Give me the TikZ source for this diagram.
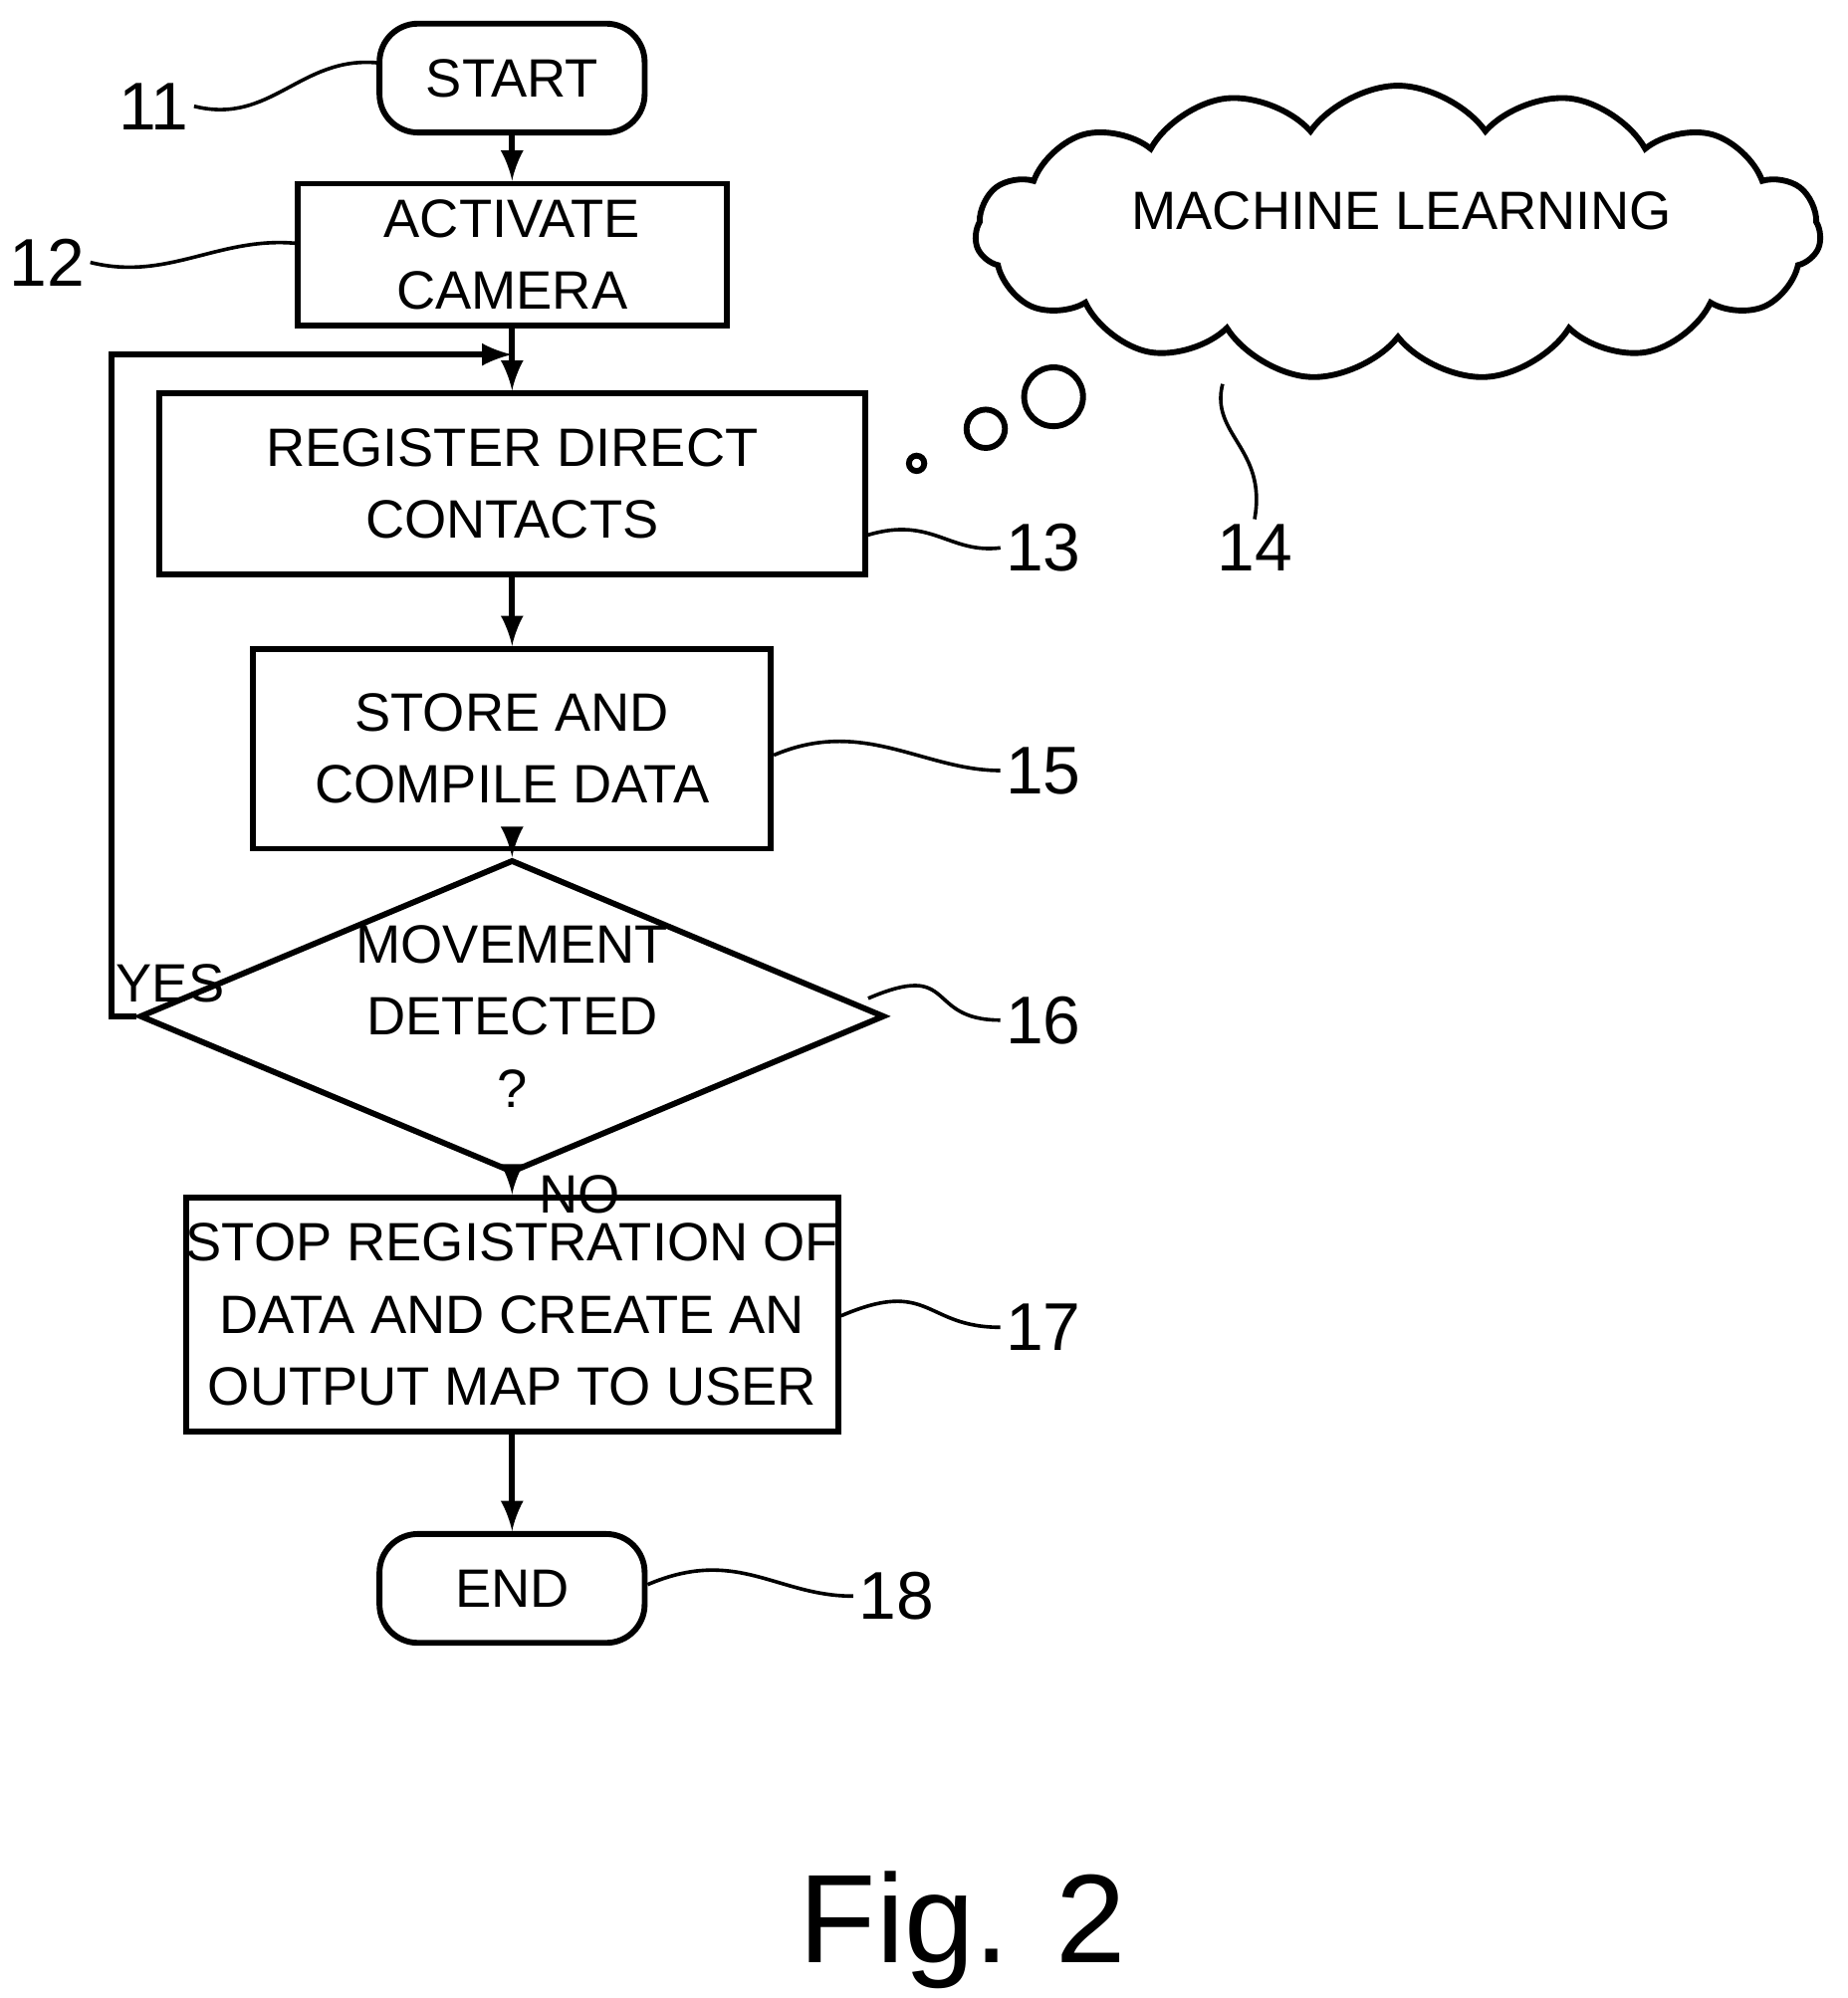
\documentclass[tikz,border=0pt]{standalone}
\usepackage{fontspec}
\setmainfont{Liberation Sans}
\usetikzlibrary{positioning,calc,shapes.geometric,shapes.symbols}

\tikzset{
  box/.style={draw,line width=1.3pt,align=center,font=\fontsize{12}{16}\selectfont,inner sep=0pt},
  term/.style={box,rounded corners=0.3cm},
  dec/.style={box,diamond,aspect=2.38},
  num/.style={font=\fontsize{15}{18}\selectfont,inner sep=1pt},
  lead/.style={line width=0.8pt},
  flow/.style={line width=1.3pt,-latex},
}

\begin{document}
\begin{tikzpicture}[x=0.01cm,y=-0.01cm]
\useasboundingbox (0,0) rectangle (1443,1561);

% flow steps
\node[term,minimum width=2.07cm,minimum height=0.85cm] (start) at (400,61) {START};
\node[box,minimum width=3.35cm,minimum height=1.11cm] (cam) at (400,199) {ACTIVATE\\CAMERA};
\node[box,minimum width=5.51cm,minimum height=1.41cm] (reg) at (400,378) {REGISTER DIRECT\\CONTACTS};
\node[box,minimum width=4.04cm,minimum height=1.56cm] (store) at (400,585) {STORE AND\\COMPILE DATA};
\node[dec,minimum width=4.38cm,minimum height=1.84cm] (move) at (400,794) {MOVEMENT\\DETECTED\\?};
\node[box,minimum width=4.40cm,minimum height=1.83cm] (stop) at (400,1027) {STOP REGISTRATION OF\\DATA AND CREATE AN\\OUTPUT MAP TO USER};
\node[term,minimum width=2.07cm,minimum height=0.85cm] (end) at (400,1241) {END};

\draw[flow] (start) -- (cam);
\draw[flow] (cam) -- (reg);
\draw[flow] (reg) -- (store);
\draw[flow] (store) -- (move);
\draw[flow] (move) -- node[right,font=\fontsize{12}{14}\selectfont,xshift=2pt,yshift=-2pt]{NO} (stop);
\draw[flow] (stop) -- (end);

% loop back
\coordinate (loop) at (400,277);
\draw[flow] (move.west) -- (87,794) -- (87,277) -- (loop);
\node[font=\fontsize{12}{14}\selectfont] (yes) at (133,768) {YES};

% machine learning
\node[cloud,draw,line width=1.3pt,cloud puffs=15,cloud puff arc=110,aspect=2.8,
  minimum width=6.6cm,minimum height=2.3cm,font=\fontsize{12}{14}\selectfont] (ml) at (1092,182) {};
\node[font=\fontsize{12}{14}\selectfont] (mltext) at (1095,165) {MACHINE LEARNING};
\draw[line width=1.3pt] (823,310) circle (23) (770,335) circle (15) (716,362) circle (6);

% reference numerals
\node[num] (n11) at (120,83) {11};
\node[num] (n12) at (37,205) {12};
\node[num] (n13) at (815,428) {13};
\node[num] (n14) at (980,428) {14};
\node[num] (n15) at (815,602) {15};
\node[num] (n16) at (815,797) {16};
\node[num] (n17) at (815,1037) {17};
\node[num] (n18) at (700,1247) {18};

\draw[lead] (n11.east) .. controls +(60,15) and +(-60,-5) .. ($(start.west)+(0,-12)$);
\draw[lead] (n12.east) .. controls +(60,15) and +(-60,-5) .. ($(cam.west)+(0,-9)$);
\draw[lead] ($(reg.east)+(0,40)$) .. controls +(50,-15) and +(-40,5) .. (n13.west);
\draw[lead] ($(store.east)+(0,5)$) .. controls +(70,-30) and +(-60,0) .. (n15.west);
\draw[lead] ($(move.east)+(-15,-14)$) .. controls +(70,-30) and +(-60,0) .. (n16.west);
\draw[lead] ($(stop.east)+(0,1)$) .. controls +(70,-30) and +(-60,0) .. (n17.west);
\draw[lead] ($(end.east)+(0,-3)$) .. controls +(70,-30) and +(-60,0) .. (n18.west);
\draw[lead] (955,300) .. controls (945,340) and (990,350) .. (n14.north);

\node[font=\fontsize{28}{32}\selectfont] (fig) at (752,1508) {Fig. 2};
\end{tikzpicture}
\end{document}
